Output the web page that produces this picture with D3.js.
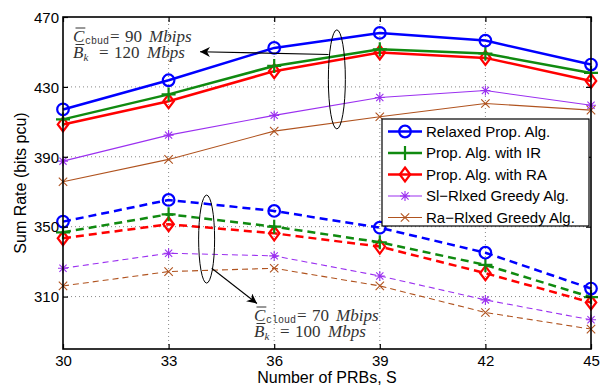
<!DOCTYPE html>
<html>
<head>
<meta charset="utf-8">
<script src="https://cdn.jsdelivr.net/npm/d3@7/dist/d3.min.js"></script>
<style>
  html, body { margin: 0; padding: 0; background: #fff; }
  svg { display: block; }
</style>
</head>
<body>
<svg id="chart" width="601" height="386"></svg>
<script>
// Number of PRBs
const prbs = [30, 33, 36, 39, 42, 45];

// Sum rate, C_cloud = 90 Mbips, B_k = 120 Mbps (solid lines)
const relaxedHigh = [417.1, 433.8, 452.3, 460.9, 456.5, 442.8];
const irHigh      = [411.4, 425.7, 442.0, 451.5, 449.1, 438.0];
const raHigh      = [408.5, 421.8, 439.0, 449.7, 446.6, 433.4];
const slHigh      = [387.5, 402.4, 413.7, 423.9, 427.9, 419.5];
const raGreedyHigh= [375.7, 388.5, 404.7, 412.9, 420.5, 416.7];

// Sum rate, C_cloud = 70 Mbips, B_k = 100 Mbps (dashed lines)
const relaxedLow  = [352.9, 365.3, 359.0, 349.4, 335.1, 314.6];
const irLow       = [346.8, 357.1, 350.0, 341.1, 328.1, 309.7];
const raLow       = [343.4, 351.4, 346.2, 338.6, 323.4, 306.6];
const slLow       = [326.2, 334.8, 333.3, 321.8, 308.1, 296.7];
const raGreedyLow = [316.1, 324.3, 326.2, 316.1, 300.9, 291.4];

const seriesNames = ["Relaxed Prop. Alg.", "Prop. Alg. with IR", "Prop. Alg. with RA",
                     "Sl\u2212Rlxed Greedy Alg.", "Ra\u2212Rlxed Greedy Alg."];
const yTicks = [310, 350, 390, 430, 470];
const xTicks = prbs;

const SANS = "'Liberation Sans', Arial, sans-serif";
const SERIF = "'Liberation Serif', 'DejaVu Serif', serif";
const MONO = "'Liberation Mono', 'DejaVu Sans Mono', monospace";

const svg = d3.select("#chart");
const margin = {left: 63, right: 10, top: 17, bottom: 37};
const W = 601, H = 386;

const x = d3.scaleLinear().domain([30, 45]).range([margin.left, W - margin.right]);
const y = d3.scaleLinear().domain([280, 470]).range([H - margin.bottom, margin.top]);

// grid
const grid = svg.append("g");
grid.selectAll("line.gx").data(xTicks.slice(1, -1)).join("line")
  .attr("x1", d => x(d)).attr("x2", d => x(d))
  .attr("y1", y(280)).attr("y2", y(470))
  .attr("stroke", "#888").attr("stroke-width", 1).attr("stroke-dasharray", "1,3");
grid.selectAll("line.gy").data(yTicks.slice(0, -1)).join("line")
  .attr("x1", x(30)).attr("x2", x(45))
  .attr("y1", d => y(d)).attr("y2", d => y(d))
  .attr("stroke", "#888").attr("stroke-width", 1).attr("stroke-dasharray", "1,3");

// styles per algorithm
const styles = [
  {color: "#0000ff", width: 2.5, marker: "circle"},
  {color: "#108a10", width: 2.5, marker: "plus"},
  {color: "#ff0000", width: 2.5, marker: "diamond"},
  {color: "#9b30f0", width: 1.1, marker: "star"},
  {color: "#b0531f", width: 1.1, marker: "cross"}
];

function drawMarker(g, type, color, cx, cy) {
  if (type === "circle") {
    g.append("circle").attr("cx", cx).attr("cy", cy).attr("r", 5.8)
      .attr("fill", "none").attr("stroke", color).attr("stroke-width", 2.2);
  } else if (type === "plus") {
    const s = 7;
    g.append("path").attr("d", `M${cx - s},${cy}H${cx + s}M${cx},${cy - s}V${cy + s}`)
      .attr("stroke", color).attr("stroke-width", 2.2).attr("fill", "none");
  } else if (type === "diamond") {
    const s = 7;
    g.append("path").attr("d", `M${cx},${cy - s}L${cx + s * 0.75},${cy}L${cx},${cy + s}L${cx - s * 0.75},${cy}Z`)
      .attr("stroke", color).attr("stroke-width", 2.2).attr("fill", "none");
  } else if (type === "star") {
    const s = 5;
    const d = s * 0.72;
    g.append("path").attr("d",
      `M${cx - s},${cy}H${cx + s}M${cx},${cy - s}V${cy + s}M${cx - d},${cy - d}L${cx + d},${cy + d}M${cx - d},${cy + d}L${cx + d},${cy - d}`)
      .attr("stroke", color).attr("stroke-width", 1.1).attr("fill", "none");
  } else if (type === "cross") {
    const d = 4.2;
    g.append("path").attr("d", `M${cx - d},${cy - d}L${cx + d},${cy + d}M${cx - d},${cy + d}L${cx + d},${cy - d}`)
      .attr("stroke", color).attr("stroke-width", 1.1).attr("fill", "none");
  }
}

const line = d3.line().x((d, i) => x(prbs[i])).y(d => y(d));
const plot = svg.append("g");

function drawSeries(values, st, dashed) {
  plot.append("path").datum(values)
    .attr("d", line).attr("fill", "none")
    .attr("stroke", st.color).attr("stroke-width", st.width)
    .attr("stroke-dasharray", dashed ? (st.width > 2 ? "8,5" : "6,4") : null);
  const g = plot.append("g");
  values.forEach((v, i) => drawMarker(g, st.marker, st.color, x(prbs[i]), y(v)));
}

const lowSets = [relaxedLow, irLow, raLow, slLow, raGreedyLow];
const highSets = [relaxedHigh, irHigh, raHigh, slHigh, raGreedyHigh];
[4, 3, 2, 1, 0].forEach(i => drawSeries(lowSets[i], styles[i], true));
[4, 3, 2, 1, 0].forEach(i => drawSeries(highSets[i], styles[i], false));

// axes box
svg.append("rect").attr("x", x(30)).attr("y", y(470))
  .attr("width", x(45) - x(30)).attr("height", y(280) - y(470))
  .attr("fill", "none").attr("stroke", "#000").attr("stroke-width", 1.6);

// axes with inward ticks
const xAxis = svg.append("g").attr("transform", `translate(0,${y(280)})`)
  .call(d3.axisBottom(x).tickValues(xTicks).tickSize(-5).tickPadding(6));
const xAxisTop = svg.append("g").attr("transform", `translate(0,${y(470)})`)
  .call(d3.axisTop(x).tickValues(xTicks).tickSize(-5).tickFormat(""));
const yAxis = svg.append("g").attr("transform", `translate(${x(30)},0)`)
  .call(d3.axisLeft(y).tickValues(yTicks).tickSize(-5).tickPadding(4));
const yAxisRight = svg.append("g").attr("transform", `translate(${x(45)},0)`)
  .call(d3.axisRight(y).tickValues(yTicks).tickSize(-5).tickFormat(""));
[xAxis, xAxisTop, yAxis, yAxisRight].forEach(a => {
  a.select(".domain").remove();
  a.selectAll(".tick line").attr("stroke", "#000").attr("stroke-width", 1.2);
  a.selectAll("text").style("font-size", "15px").attr("fill", "#000")
    .style("font-family", SANS);
});
yAxis.selectAll("text").attr("dy", "0.35em");

// axis titles
svg.append("text").attr("x", (x(30) + x(45)) / 2).attr("y", 383)
  .attr("text-anchor", "middle").style("font-size", "16px").style("font-family", SANS)
  .text("Number of PRBs, S");
svg.append("text").attr("transform", `translate(26,${(y(280) + y(470)) / 2}) rotate(-90)`)
  .attr("text-anchor", "middle").style("font-size", "16px").style("font-family", SANS)
  .text("Sum Rate (bits pcu)");

// legend
const lg = svg.append("g").attr("transform", "translate(382,119)");
lg.append("rect").attr("width", 207).attr("height", 107)
  .attr("fill", "#fff").attr("stroke", "#000").attr("stroke-width", 1.2);
seriesNames.forEach((name, i) => {
  const ly = 12.5 + i * 21.5;
  const st = styles[i];
  lg.append("line").attr("x1", 6).attr("x2", 40).attr("y1", ly).attr("y2", ly)
    .attr("stroke", st.color).attr("stroke-width", st.width);
  drawMarker(lg, st.marker, st.color, 23, ly);
  lg.append("text").attr("x", 44).attr("y", ly).attr("dy", "0.36em")
    .style("font-size", "15px").style("font-family", SANS).attr("fill", "#000").text(name);
});

// annotations
const ann = svg.append("g");
const defs = svg.append("defs");
defs.append("marker").attr("id", "arrow").attr("viewBox", "0 0 10 10")
  .attr("refX", 10).attr("refY", 5).attr("markerWidth", 10).attr("markerHeight", 10)
  .attr("markerUnits", "userSpaceOnUse").attr("orient", "auto")
  .append("path").attr("d", "M0,0L10,5L0,10L3,5Z").attr("fill", "#000");

// upper group marker
ann.append("ellipse").attr("cx", x(37.78)).attr("cy", y(434.3)).attr("rx", 8.5).attr("ry", 49.5)
  .attr("fill", "none").attr("stroke", "#000").attr("stroke-width", 1);
ann.append("line").attr("x1", x(37.78) - 8.3).attr("y1", 54.5).attr("x2", 200).attr("y2", 51.7)
  .attr("stroke", "#000").attr("stroke-width", 1.1).attr("marker-end", "url(#arrow)");

// lower group marker
ann.append("ellipse").attr("cx", x(34.08)).attr("cy", y(342.9)).attr("rx", 8).attr("ry", 44)
  .attr("fill", "none").attr("stroke", "#000").attr("stroke-width", 1);
ann.append("line").attr("x1", 211.7).attr("y1", 268.3).attr("x2", 257).attr("y2", 303.5)
  .attr("stroke", "#000").attr("stroke-width", 1.1).attr("marker-end", "url(#arrow)");

// one piece of a math-style label; returns its advance width
function piece(px, py, str, opts) {
  const t = ann.append("text").attr("x", px).attr("y", py)
    .style("font-family", opts.mono ? MONO : SERIF)
    .style("font-style", opts.italic ? "italic" : "normal")
    .style("font-size", (opts.size || 17) + "px")
    .attr("fill", "#333").text(str);
  return t.node().getComputedTextLength();
}

// letter with an overbar drawn as a short rule
function barred(px, py, letter) {
  const w = piece(px, py, letter, {italic: true});
  ann.append("line").attr("x1", px + 2.5).attr("x2", px + w + 1)
    .attr("y1", py - 13.5).attr("y2", py - 13.5).attr("stroke", "#333").attr("stroke-width", 1);
}

function mathLabel(px, py, sub, value, bval) {
  barred(px, py, "C");
  const ws = piece(px + 12, py + 2, sub, {mono: true, size: 10});
  const eq = px + 12 + ws + 1;
  piece(eq, py, "=", {});
  piece(eq + 15, py, String(value), {});
  piece(eq + 39, py, "Mbips", {italic: true});

  const py2 = py + 16.5;
  barred(px, py2, "B");
  piece(px + 10.5, py2 + 2.5, "k", {italic: true, size: 11});
  piece(px + 26, py2, "=", {});
  piece(px + 41, py2, String(bval), {});
  piece(px + 74, py2, "Mbps", {italic: true});
}
mathLabel(73, 41.5, "cbud", 90, 120);
mathLabel(254, 320.5, "cloud", 70, 100);
</script>
</body>
</html>
